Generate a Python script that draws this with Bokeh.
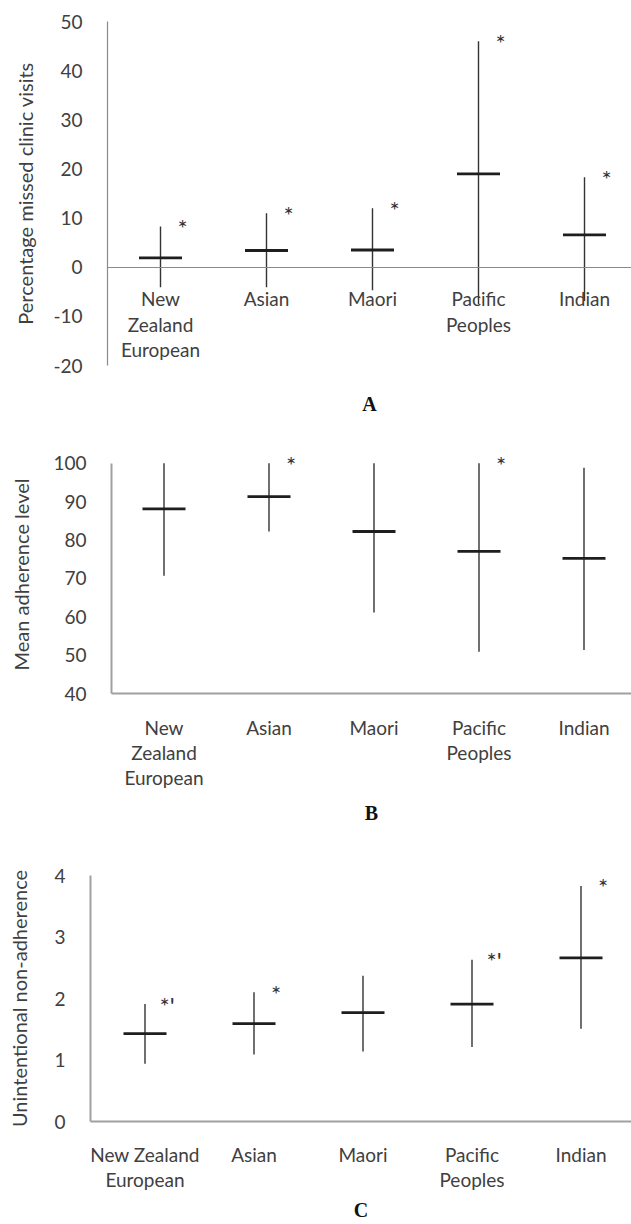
from bokeh.plotting import figure
from bokeh.models import Range1d, FixedTicker, LinearAxis
from bokeh.core.properties import value
from bokeh.embed import file_html
from bokeh.resources import INLINE

# ---------------- data ----------------
groups = ["New Zealand European", "Asian", "Maori", "Pacific Peoples", "Indian"]
labels_ab = ["New\nZealand\nEuropean", "Asian", "Maori", "Pacific\nPeoples", "Indian"]
labels_c = ["New Zealand\nEuropean", "Asian", "Maori", "Pacific\nPeoples", "Indian"]

a_mean = [1.9, 3.4, 3.5, 19.0, 6.6]
a_high = [8.3, 11.0, 12.0, 46.0, 18.3]
a_low = [-4.1, -4.1, -4.7, -7.5, -6.9]
a_stars = ["*", "*", "*", "*", "*"]
a_yticks = [-20, -10, 0, 10, 20, 30, 40, 50]

b_mean = [88.1, 91.3, 82.2, 77.0, 75.2]
b_high = [100.0, 100.0, 100.0, 100.0, 98.8]
b_low = [70.7, 82.2, 61.1, 50.9, 51.3]
b_stars = ["", "*", "", "*", ""]
b_yticks = [40, 50, 60, 70, 80, 90, 100]

c_mean = [1.43, 1.59, 1.77, 1.91, 2.66]
c_high = [1.91, 2.10, 2.37, 2.63, 3.83]
c_low = [0.94, 1.09, 1.14, 1.21, 1.51]
c_stars = ["*'", "*", "", "*'", "*"]
c_yticks = [0, 1, 2, 3, 4]

FONT = "Lato"
TXT = "#404040"
W = 631


def panel(labels, mean, high, low, stars, yticks, ytitle, letter,
          height, top, left, frame_h, spacing, zero_axis,
          letter_standoff, label_standoff, ytitle_standoff, axis_color, axis_width,
          ytop=None):
    n = len(labels)
    xs = [i + 0.5 for i in range(n)]
    frame_w = W - left
    p = figure(width=W, height=height, output_backend="svg", toolbar_location=None,
               x_range=Range1d(0, frame_w / spacing),
               y_range=Range1d(yticks[0], ytop if ytop is not None else yticks[-1]),
               min_border_left=left, min_border_right=0,
               min_border_top=top, min_border_bottom=height - top - frame_h)
    p.outline_line_color = None
    p.xgrid.visible = False
    p.ygrid.visible = False

    # y axis
    yax = p.yaxis[0]
    yax.ticker = FixedTicker(ticks=yticks)
    yax.bounds = (yticks[0], yticks[-1])
    yax.major_label_overrides = {t: str(t) for t in yticks}
    yax.major_tick_line_color = None
    yax.minor_tick_line_color = None
    yax.axis_line_color = axis_color
    yax.axis_line_width = axis_width
    yax.major_label_text_font = FONT
    yax.major_label_text_font_size = "19px"
    yax.major_label_text_color = TXT
    yax.major_label_standoff = 19
    yax.axis_label = ytitle
    yax.axis_label_text_font = FONT
    yax.axis_label_text_font_size = "20px"
    yax.axis_label_text_font_style = "normal"
    yax.axis_label_text_color = TXT
    yax.axis_label_standoff = ytitle_standoff

    # x axis (category labels)
    xax = p.xaxis[0]
    xax.ticker = FixedTicker(ticks=xs)
    xax.major_label_overrides = {x: lab for x, lab in zip(xs, labels)}
    xax.major_tick_line_color = None
    xax.minor_tick_line_color = None
    xax.axis_line_color = axis_color
    xax.axis_line_width = axis_width
    xax.major_label_text_font = FONT
    xax.major_label_text_font_size = "19px"
    xax.major_label_text_color = TXT
    xax.major_label_text_line_height = 1.1
    xax.major_label_standoff = label_standoff

    letter_axis = xax
    if zero_axis:
        xax.fixed_location = 0
        letter_axis = LinearAxis(ticker=FixedTicker(ticks=[]), axis_line_color=None,
                                 major_tick_line_color=None, minor_tick_line_color=None,
                                 major_label_standoff=0, major_tick_out=0, minor_tick_out=0)
        p.add_layout(letter_axis, "below")
    letter_axis.axis_label = letter
    letter_axis.axis_label_text_font = "Liberation Serif"
    letter_axis.axis_label_text_font_style = "bold"
    letter_axis.axis_label_text_font_size = "20px"
    letter_axis.axis_label_text_line_height = 1.0
    letter_axis.axis_label_text_color = "#111111"
    letter_axis.axis_label_standoff = letter_standoff

    # error lines, means, significance marks
    p.segment(x0=xs, y0=low, x1=xs, y1=high, line_color="#333333", line_width=1.4)
    p.scatter(x=xs, y=mean, marker="dash", size=43, line_color="#1e1e1e", line_width=2.8)
    p.text(x=xs, y=high, text=stars, x_offset=22, y_offset=1,
           text_align="center", text_baseline="alphabetic",
           text_font=value(FONT), text_font_size="24px", text_color="#333333")
    return p


pA = panel(labels_ab, a_mean, a_high, a_low, a_stars, a_yticks,
           "Percentage missed clinic visits", "A",
           height=420, top=21, left=107, frame_h=344, spacing=106,
           zero_axis=True, letter_standoff=27, label_standoff=14, ytitle_standoff=13,
           axis_color="#8a8a8a", axis_width=1.2)
pB = panel(labels_ab, b_mean, b_high, b_low, b_stars, b_yticks,
           "Mean adherence level", "B",
           height=420, top=35, left=111, frame_h=238, spacing=105,
           zero_axis=False, letter_standoff=10, label_standoff=16, ytitle_standoff=17,
           axis_color="#a0a0a0", axis_width=2, ytop=102)
pC = panel(labels_c, c_mean, c_high, c_low, c_stars, c_yticks,
           "Unintentional non-adherence", "C",
           height=384, top=35, left=90, frame_h=246, spacing=109,
           zero_axis=False, letter_standoff=5, label_standoff=15, ytitle_standoff=20,
           axis_color="#a0a0a0", axis_width=2)

open("out.html", "w").write(file_html([pA, pB, pC], INLINE))
